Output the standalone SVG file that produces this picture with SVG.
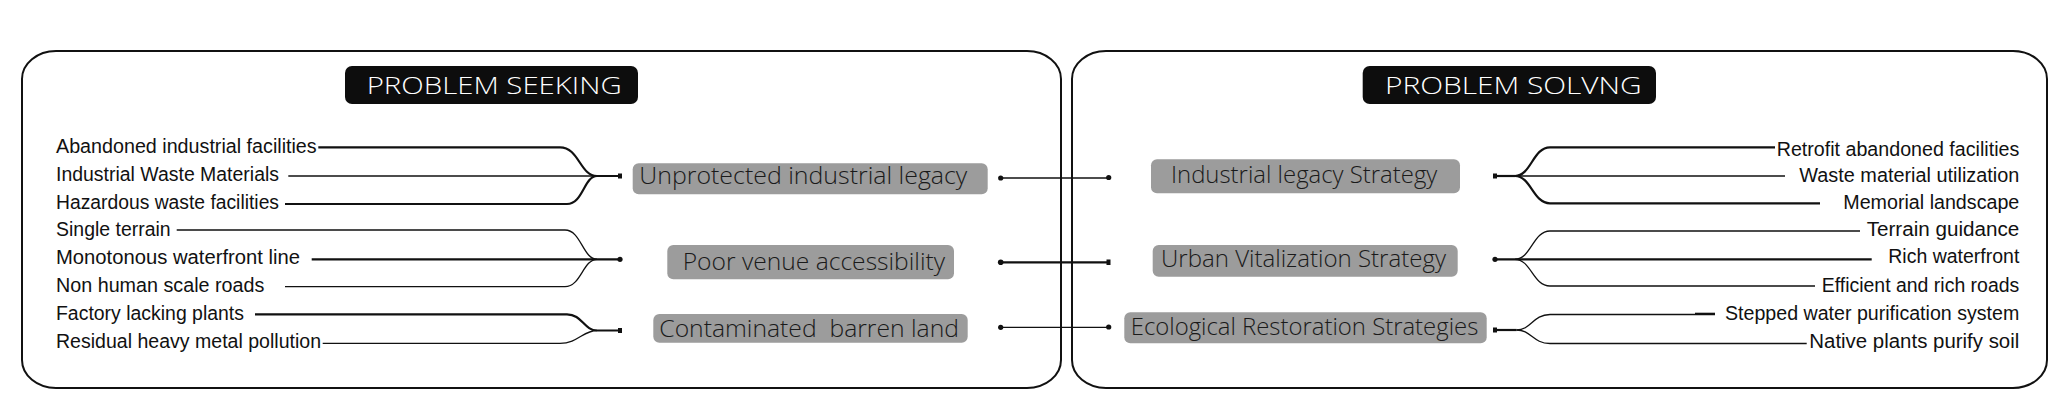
<svg xmlns="http://www.w3.org/2000/svg" width="2067" height="413" viewBox="0 0 2067 413">
<style>
.box{fill:none;stroke:#111;stroke-width:2}
.hdr{fill:#0d0d0d}
.hdrt{font-family:"Open Sans","Liberation Sans",sans-serif;font-size:23px;fill:#fff;font-weight:300}
.node{fill:#9c9c9c}
.nt{font-family:"Open Sans","Liberation Sans",sans-serif;font-size:24px;fill:#1a1a1a;font-weight:300;white-space:pre}
.it{font-family:"Liberation Sans",Arial,sans-serif;font-size:19.6px;fill:#111}
.ln{fill:none;stroke:#111;stroke-width:1.3}
.lnb{fill:none;stroke:#111;stroke-width:2.2}
.dot{fill:#111}
</style>
<rect width="2067" height="413" fill="#fff"/>
<g id="panel-seeking">
<rect class="box" x="22" y="51" width="1039" height="337" rx="34" ry="28"/>
<rect class="hdr" x="345" y="66" width="293" height="38" rx="7"/>
<text class="hdrt" x="366.7" y="94.3" textLength="255" lengthAdjust="spacingAndGlyphs">PROBLEM SEEKING</text>
</g>
<g id="panel-solving">
<rect class="box" x="1072" y="51" width="975" height="337" rx="34" ry="28"/>
<rect class="hdr" x="1362.7" y="66" width="293.3" height="38" rx="7"/>
<text class="hdrt" x="1385" y="94.3" textLength="256.7" lengthAdjust="spacingAndGlyphs">PROBLEM SOLVNG</text>
</g>
<g id="left-items">
<text class="it" x="56" y="152.7" textLength="260.7" lengthAdjust="spacingAndGlyphs">Abandoned industrial facilities</text>
<text class="it" x="56" y="180.7" textLength="223" lengthAdjust="spacingAndGlyphs">Industrial Waste Materials</text>
<text class="it" x="56" y="208.5" textLength="223" lengthAdjust="spacingAndGlyphs">Hazardous waste facilities</text>
<text class="it" x="56" y="235.5" textLength="114.7" lengthAdjust="spacingAndGlyphs">Single terrain</text>
<text class="it" x="56" y="263.5" textLength="244" lengthAdjust="spacingAndGlyphs">Monotonous waterfront line</text>
<text class="it" x="56" y="291.7" textLength="208.3" lengthAdjust="spacingAndGlyphs">Non human scale roads</text>
<text class="it" x="56" y="320" textLength="188" lengthAdjust="spacingAndGlyphs">Factory lacking plants</text>
<text class="it" x="56" y="348.3" textLength="265" lengthAdjust="spacingAndGlyphs">Residual heavy metal pollution</text>
</g>
<g id="right-items">
<text class="it" x="2019.3" y="156" text-anchor="end" textLength="242.6" lengthAdjust="spacingAndGlyphs">Retrofit abandoned facilities</text>
<text class="it" x="2019.3" y="181.7" text-anchor="end" textLength="220" lengthAdjust="spacingAndGlyphs">Waste material utilization</text>
<text class="it" x="2019.3" y="209.3" text-anchor="end" textLength="176" lengthAdjust="spacingAndGlyphs">Memorial landscape</text>
<text class="it" x="2019.3" y="236" text-anchor="end" textLength="152.6" lengthAdjust="spacingAndGlyphs">Terrain guidance</text>
<text class="it" x="2019.3" y="263.3" text-anchor="end" textLength="131" lengthAdjust="spacingAndGlyphs">Rich waterfront</text>
<text class="it" x="2019.3" y="291.7" text-anchor="end" textLength="197.6" lengthAdjust="spacingAndGlyphs">Efficient and rich roads</text>
<text class="it" x="2019.3" y="320" text-anchor="end" textLength="294.3" lengthAdjust="spacingAndGlyphs">Stepped water purification system</text>
<text class="it" x="2019.3" y="348.3" text-anchor="end" textLength="210" lengthAdjust="spacingAndGlyphs">Native plants purify soil</text>
</g>
<g id="node-unprotected">
<rect class="node" x="632.7" y="163.3" width="355" height="31" rx="6"/>
<text class="nt" x="639.3" y="184.3" textLength="328" lengthAdjust="spacingAndGlyphs">Unprotected industrial legacy</text>
</g>
<g id="node-poor">
<rect class="node" x="667.3" y="245" width="286.7" height="34.3" rx="6"/>
<text class="nt" x="682.7" y="270" textLength="262.3" lengthAdjust="spacingAndGlyphs">Poor venue accessibility</text>
</g>
<g id="node-contaminated">
<rect class="node" x="653.3" y="314" width="314.4" height="28.7" rx="6"/>
<text class="nt" x="659.3" y="336.7" textLength="299.7" lengthAdjust="spacingAndGlyphs">Contaminated  barren land</text>
</g>
<g id="node-industrial">
<rect class="node" x="1151" y="159.3" width="309" height="34" rx="6"/>
<text class="nt" x="1171" y="182.7" textLength="266.3" lengthAdjust="spacingAndGlyphs">Industrial legacy Strategy</text>
</g>
<g id="node-urban">
<rect class="node" x="1152.7" y="245" width="305" height="31.7" rx="6"/>
<text class="nt" x="1161" y="266.7" textLength="285" lengthAdjust="spacingAndGlyphs">Urban Vitalization Strategy</text>
</g>
<g id="node-ecological">
<rect class="node" x="1124.3" y="312.3" width="362.4" height="31" rx="6"/>
<text class="nt" x="1130.7" y="335" textLength="347.6" lengthAdjust="spacingAndGlyphs">Ecological Restoration Strategies</text>
</g>
<g id="connectors">
<path class="lnb" d="M318.3,147.3 H560 C579,147.3 580,176 597,176"/>
<path class="ln" d="M288.3,176 H597"/>
<path class="lnb" d="M285,204 H567 C583,204 584,176 597,176 H620"/>
<rect class="dot" x="618" y="173.5" width="4" height="5"/>
<path class="ln" d="M176.7,230 H565 C581,230 583,259.3 597,259.3"/>
<path class="lnb" d="M311.7,259.3 H620"/>
<path class="ln" d="M285,286.7 H565 C581,286.7 583,259.3 597,259.3"/>
<circle class="dot" cx="620" cy="259.3" r="2.6"/>
<path class="lnb" d="M255,314.3 H567 C582,314.3 584,330.5 597,330.5 H620"/>
<path class="ln" d="M322.7,343.3 H560 C578,343.3 583,330.5 597,330.5"/>
<rect class="dot" x="618" y="328" width="4" height="5"/>
<path class="ln" d="M1000.7,178 H1108.7"/>
<circle class="dot" cx="1000.7" cy="178" r="2.6"/>
<circle class="dot" cx="1108.7" cy="177.5" r="2.6"/>
<path class="lnb" d="M1000.7,262.3 H1108.7"/>
<circle class="dot" cx="1000.7" cy="262.3" r="2.8"/>
<rect class="dot" x="1106.5" y="259.5" width="4" height="5.5"/>
<path class="ln" d="M1000.7,327.3 H1108.7"/>
<circle class="dot" cx="1000.7" cy="327.3" r="2.6"/>
<circle class="dot" cx="1108.7" cy="327" r="2.6"/>
<path class="lnb" d="M1495,176 H1515"/>
<rect class="dot" x="1493" y="173.5" width="4" height="5"/>
<path class="lnb" d="M1515,176 C1531,176 1533,147.3 1550,147.3 H1775"/>
<path class="ln" d="M1515,176 H1785"/>
<path class="lnb" d="M1515,176 C1531,176 1533,203.3 1550,203.3 H1820"/>
<circle class="dot" cx="1495" cy="259.3" r="2.6"/>
<path class="ln" d="M1515,259.3 C1531,259.3 1533,231 1550,231 H1860"/>
<path class="lnb" d="M1495,259.3 H1871.7"/>
<path class="ln" d="M1515,259.3 C1531,259.3 1533,286 1550,286 H1815"/>
<rect class="dot" x="1493" y="327.5" width="4" height="5"/>
<path class="lnb" d="M1495,330 H1516.7"/>
<path class="ln" d="M1516.7,330 C1531,330 1533,314.5 1550,314.5 H1715"/>
<path class="lnb" d="M1695,313.8 H1715"/>
<path class="ln" d="M1516.7,330 C1531,330 1533,343.5 1550,343.5 H1806.7"/>
</g>
</svg>
